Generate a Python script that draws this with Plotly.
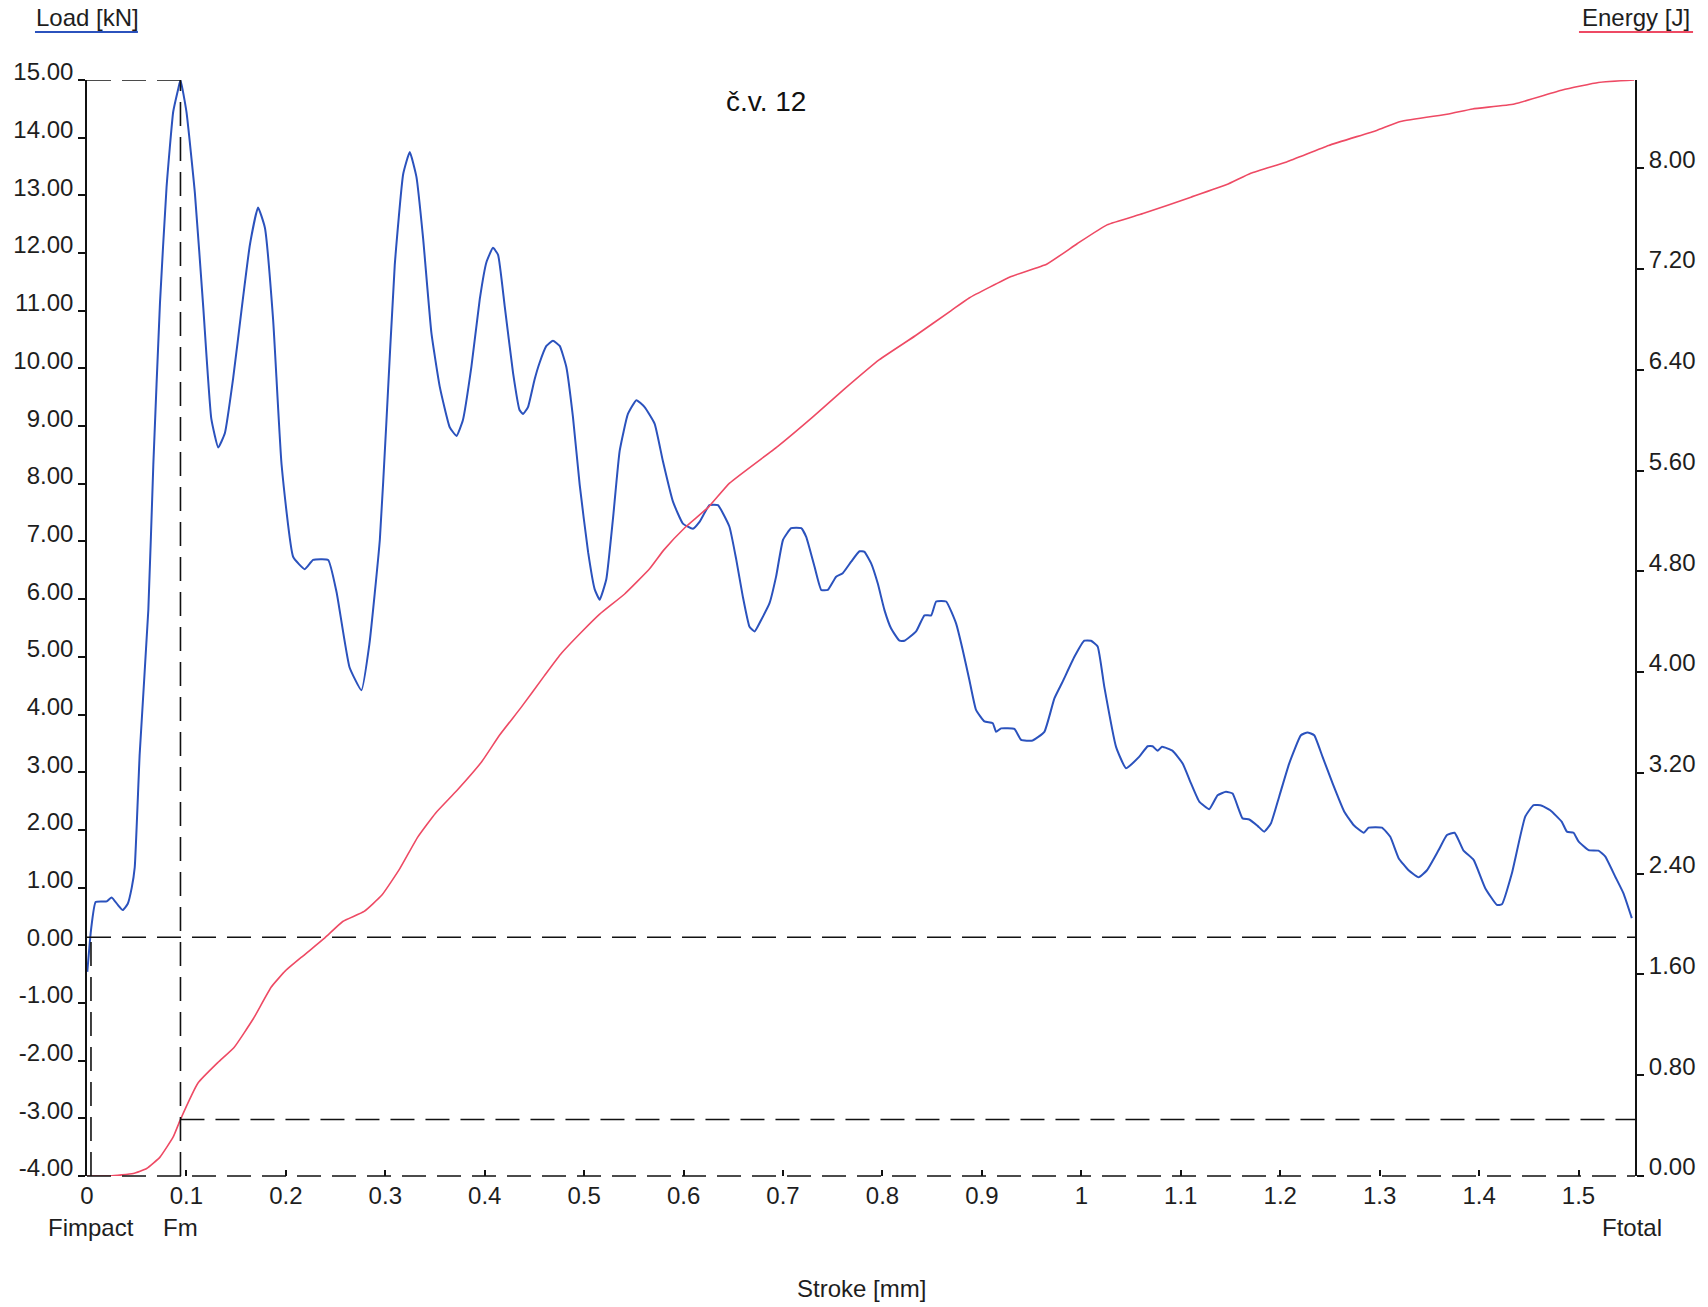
import plotly.graph_objects as go

# ---------------- data ----------------
stroke_load = [0.0003, 0.004, 0.0087, 0.0198, 0.0248, 0.031, 0.036, 0.041, 0.045, 0.048,
               0.053, 0.0617, 0.0667, 0.0734, 0.080, 0.0867, 0.0918, 0.094, 0.100, 0.1085,
               0.117, 0.125, 0.132, 0.1387, 0.147, 0.1556, 0.1638, 0.172, 0.1789, 0.1872,
               0.1957, 0.2074, 0.219, 0.2274, 0.2425, 0.251, 0.264, 0.276, 0.284, 0.2945,
               0.301, 0.3095, 0.318, 0.3246, 0.3313, 0.338, 0.3464, 0.3548, 0.3648, 0.3716,
               0.378, 0.3866, 0.395, 0.4017, 0.4083, 0.4134, 0.420, 0.4285, 0.435, 0.4385,
               0.4435, 0.450, 0.455, 0.462, 0.4686, 0.4754, 0.482, 0.4887, 0.4955, 0.504,
               0.5106, 0.5156, 0.5223, 0.529, 0.5357, 0.544, 0.5525, 0.5608, 0.5709, 0.5792,
               0.5893, 0.5993, 0.6093, 0.616, 0.626, 0.6345, 0.646, 0.653, 0.6596, 0.6663,
               0.6714, 0.678, 0.6864, 0.693, 0.700, 0.7082, 0.7183, 0.7233, 0.7317, 0.7384,
               0.745, 0.7534, 0.760, 0.7685, 0.7769, 0.7819, 0.7886, 0.7953, 0.802, 0.8087,
               0.8171, 0.8221, 0.8338, 0.8422, 0.849, 0.854, 0.864, 0.874, 0.8807, 0.8874,
               0.8941, 0.9025, 0.9109, 0.9143, 0.9193, 0.9327, 0.9394, 0.951, 0.9628, 0.9729,
               0.9812, 0.993, 1.003, 1.0097, 1.0164, 1.0231, 1.0349, 1.0449, 1.0583, 1.0667,
               1.0717, 1.0767, 1.0811, 1.0918, 1.1019, 1.1102, 1.1186, 1.1287, 1.137, 1.1454,
               1.1521, 1.1621, 1.1688, 1.1772, 1.1839, 1.1906, 1.199, 1.209, 1.2208, 1.2274,
               1.2342, 1.2425, 1.2526, 1.2643, 1.274, 1.284, 1.289, 1.3023, 1.3107, 1.3191,
               1.3291, 1.3392, 1.3476, 1.3593, 1.3677, 1.3754, 1.3844, 1.3945, 1.4062, 1.4179,
               1.4229, 1.433, 1.4464, 1.4548, 1.4631, 1.4716, 1.4832, 1.4883, 1.495, 1.5,
               1.5101, 1.5201, 1.5268, 1.5369, 1.5452, 1.5536]

load_kN = [-0.46, 0.26, 0.75, 0.76, 0.83, 0.70, 0.61, 0.72, 1.0, 1.35,
           3.32, 5.82, 8.33, 11.14, 13.14, 14.45, 14.85, 15.0, 14.45, 13.04,
           11.04, 9.13, 8.63, 8.88, 9.83, 11.04, 12.14, 12.79, 12.44, 10.84,
           8.33, 6.73, 6.52, 6.68, 6.68, 6.12, 4.82, 4.42, 5.22, 7.03,
           9.04, 11.79, 13.37, 13.75, 13.32, 12.26, 10.61, 9.68, 8.98, 8.83,
           9.10, 10.03, 11.20, 11.84, 12.09, 11.97, 11.09, 9.92, 9.28, 9.21,
           9.33, 9.80, 10.09, 10.39, 10.48, 10.39, 10.03, 9.16, 7.98, 6.81,
           6.17, 5.99, 6.35, 7.40, 8.57, 9.21, 9.45, 9.33, 9.04, 8.39,
           7.69, 7.31, 7.22, 7.34, 7.63, 7.63, 7.26, 6.68, 6.04, 5.52,
           5.44, 5.64, 5.93, 6.39, 7.03, 7.23, 7.23, 7.08, 6.56, 6.16,
           6.16, 6.39, 6.45, 6.65, 6.83, 6.82, 6.62, 6.27, 5.81, 5.49,
           5.28, 5.28, 5.44, 5.72, 5.72, 5.96, 5.96, 5.58, 5.12, 4.60,
           4.08, 3.88, 3.85, 3.70, 3.76, 3.75, 3.56, 3.55, 3.70, 4.28,
           4.57, 5.0, 5.28, 5.28, 5.18, 4.48, 3.44, 3.07, 3.27, 3.45,
           3.45, 3.37, 3.44, 3.37, 3.15, 2.81, 2.49, 2.36, 2.60, 2.66,
           2.63, 2.20, 2.18, 2.07, 1.97, 2.11, 2.58, 3.15, 3.64, 3.69,
           3.64, 3.27, 2.81, 2.32, 2.08, 1.95, 2.04, 2.04, 1.88, 1.51,
           1.30, 1.18, 1.30, 1.65, 1.91, 1.95, 1.64, 1.48, 0.99, 0.70,
           0.71, 1.25, 2.23, 2.43, 2.42, 2.34, 2.14, 1.97, 1.95, 1.80,
           1.65, 1.64, 1.54, 1.19, 0.90, 0.47]

stroke_energy = [0.0, 0.023, 0.0465, 0.06, 0.0734, 0.0867, 0.0935, 0.1118, 0.1315, 0.1479,
                 0.1674, 0.1853, 0.1997, 0.2177, 0.2392, 0.2572, 0.2787, 0.2966, 0.3146, 0.3326,
                 0.3505, 0.372, 0.3971, 0.415, 0.4366, 0.4599, 0.4761, 0.4976, 0.5156, 0.5407,
                 0.5658, 0.5802, 0.6017, 0.625, 0.6462, 0.6944, 0.7306, 0.7607, 0.7969, 0.833,
                 0.8691, 0.8872, 0.9294, 0.9655, 0.9957, 1.0258, 1.062, 1.1102, 1.1463, 1.1704,
                 1.2065, 1.2487, 1.297, 1.321, 1.3693, 1.3934, 1.4355, 1.4837, 1.52, 1.556]

energy_J = [0.0, 0.0, 0.02, 0.06, 0.15, 0.31, 0.44, 0.74, 0.90, 1.02,
            1.25, 1.50, 1.63, 1.75, 1.89, 2.02, 2.10, 2.23, 2.44, 2.69,
            2.88, 3.06, 3.29, 3.50, 3.72, 3.97, 4.14, 4.32, 4.46, 4.62,
            4.82, 4.97, 5.15, 5.31, 5.50, 5.79, 6.03, 6.24, 6.48, 6.67,
            6.87, 6.97, 7.14, 7.24, 7.40, 7.55, 7.64, 7.77, 7.87, 7.96,
            8.05, 8.18, 8.30, 8.37, 8.43, 8.47, 8.51, 8.62, 8.68, 8.70]

x_tick_vals = [0, 0.1, 0.2, 0.3, 0.4, 0.5, 0.6, 0.7, 0.8, 0.9, 1.0, 1.1, 1.2, 1.3, 1.4, 1.5]
x_tick_text = ["0", "0.1", "0.2", "0.3", "0.4", "0.5", "0.6", "0.7", "0.8", "0.9",
               "1", "1.1", "1.2", "1.3", "1.4", "1.5"]
load_ticks = list(range(-4, 16))
energy_ticks = [0.0, 0.8, 1.6, 2.4, 3.2, 4.0, 4.8, 5.6, 6.4, 7.2, 8.0]

F_IMPACT = 0.004          # stroke of impact marker
LOAD_REF_LEVEL = 0.14     # dashed reference level on load axis
X_MAX = 1.5568
LOAD_RANGE = [-4, 15]
ENERGY_RANGE = [0, 8.70]

# ---------------- derived markers ----------------
i_max = max(range(len(load_kN)), key=lambda i: load_kN[i])
fm_x = stroke_load[i_max]
fm_load = load_kN[i_max]
ftotal_x = stroke_load[-1]


def interp(x, xs, ys):
    for k in range(1, len(xs)):
        if xs[k] >= x:
            t = (x - xs[k - 1]) / (xs[k] - xs[k - 1])
            return ys[k - 1] + t * (ys[k] - ys[k - 1])
    return ys[-1]


e_fm = interp(fm_x, stroke_energy, energy_J)

BLUE = "#2b52bd"
RED = "#ee4a64"
TXT = "#1e1e1e"
FONT = "Liberation Sans, Arial, sans-serif"
DASH = "24px,11px"

fig = go.Figure()
fig.add_trace(go.Scatter(x=stroke_load, y=load_kN, mode="lines",
                         line=dict(color=BLUE, width=2, shape="spline", smoothing=0.4),
                         yaxis="y", showlegend=False))
fig.add_trace(go.Scatter(x=stroke_energy, y=energy_J, mode="lines",
                         line=dict(color=RED, width=1.6, shape="spline", smoothing=0.4),
                         yaxis="y2", showlegend=False))

dl = dict(color="#111111", width=1.6, dash=DASH)
shapes = [
    # bottom dashed axis
    dict(type="line", xref="paper", yref="paper", x0=0, x1=1, y0=0, y1=0, line=dl),
    # Fm vertical
    dict(type="line", xref="x", yref="y", x0=fm_x, x1=fm_x, y0=LOAD_RANGE[0], y1=fm_load, line=dl),
    # top line at Fm
    dict(type="line", xref="x", yref="y", x0=0, x1=fm_x, y0=fm_load, y1=fm_load, line=dl),
    # Fimpact vertical
    dict(type="line", xref="x", yref="y", x0=F_IMPACT, x1=F_IMPACT, y0=LOAD_RANGE[0],
         y1=LOAD_REF_LEVEL + 0.1, line=dl),
    # load reference level
    dict(type="line", xref="x", yref="y", x0=0, x1=X_MAX, y0=LOAD_REF_LEVEL, y1=LOAD_REF_LEVEL, line=dl),
    # energy at Fm
    dict(type="line", xref="x", yref="y2", x0=fm_x, x1=X_MAX, y0=e_fm, y1=e_fm, line=dl),
    # title underlines
    dict(type="line", xref="paper", yref="paper", x0=-0.0336, x1=0.0329, y0=1.0438, y1=1.0438,
         line=dict(color=BLUE, width=2)),
    dict(type="line", xref="paper", yref="paper", x0=0.9638, x1=1.0375, y0=1.0438, y1=1.0438,
         line=dict(color=RED, width=2)),
]

tf = dict(family=FONT, size=24, color=TXT)
annotations = [
    dict(text="č.v. 12", xref="paper", yref="paper", x=0.4386, y=0.98, showarrow=False,
         font=dict(family=FONT, size=28, color="#111111"), xanchor="center", yanchor="middle"),
    dict(text="Load [kN]", xref="paper", yref="paper", x=0.0, y=1.0566, showarrow=False,
         font=dict(family=FONT, size=24, color=TXT), xanchor="center", yanchor="middle"),
    dict(text="Energy [J]", xref="paper", yref="paper", x=1.0006, y=1.0566, showarrow=False,
         font=dict(family=FONT, size=24, color=TXT), xanchor="center", yanchor="middle"),
    dict(text="Stroke [mm]", xref="paper", yref="paper", x=0.5, y=-0.1022, showarrow=False,
         font=dict(family=FONT, size=24, color=TXT), xanchor="center", yanchor="middle"),
    dict(text="Fimpact", xref="x", yref="paper", x=F_IMPACT, y=-0.0474, showarrow=False,
         font=tf, xanchor="center", yanchor="middle"),
    dict(text="Fm", xref="x", yref="paper", x=fm_x, y=-0.0474, showarrow=False,
         font=tf, xanchor="center", yanchor="middle"),
    dict(text="Ftotal", xref="x", yref="paper", x=ftotal_x, y=-0.0474, showarrow=False,
         font=tf, xanchor="center", yanchor="middle"),
]

fig.update_layout(
    width=1708, height=1307,
    margin=dict(l=87, r=73, t=80, b=131),
    paper_bgcolor="white", plot_bgcolor="white",
    font=dict(family=FONT, color=TXT),
    showlegend=False,
    xaxis=dict(range=[0, X_MAX], tickvals=x_tick_vals, ticktext=x_tick_text,
               ticks="inside", ticklen=6, tickwidth=1.5, tickcolor="#111111",
               ticklabelstandoff=3,
               showline=False, showgrid=False, zeroline=False, tickfont=tf),
    yaxis=dict(range=LOAD_RANGE, tickvals=load_ticks,
               ticktext=["%.2f" % v for v in load_ticks],
               ticks="outside", ticklen=7, tickwidth=1.5, tickcolor="#111111",
               showline=True, linecolor="#111111", linewidth=1.6,
               showgrid=False, zeroline=False, tickfont=tf, ticklabelshift=-8),
    yaxis2=dict(range=ENERGY_RANGE, overlaying="y", side="right", tickvals=energy_ticks,
                ticktext=["%.2f" % v for v in energy_ticks],
                ticks="outside", ticklen=7, tickwidth=1.5, tickcolor="#111111",
                showline=True, linecolor="#111111", linewidth=2,
                showgrid=False, zeroline=False, tickfont=tf, ticklabelshift=-9),
    shapes=shapes,
    annotations=annotations,
)

fig.write_html("out.html", config={"displayModeBar": False},
               post_script="document.body.style.margin='0';document.body.style.overflow='hidden';")
